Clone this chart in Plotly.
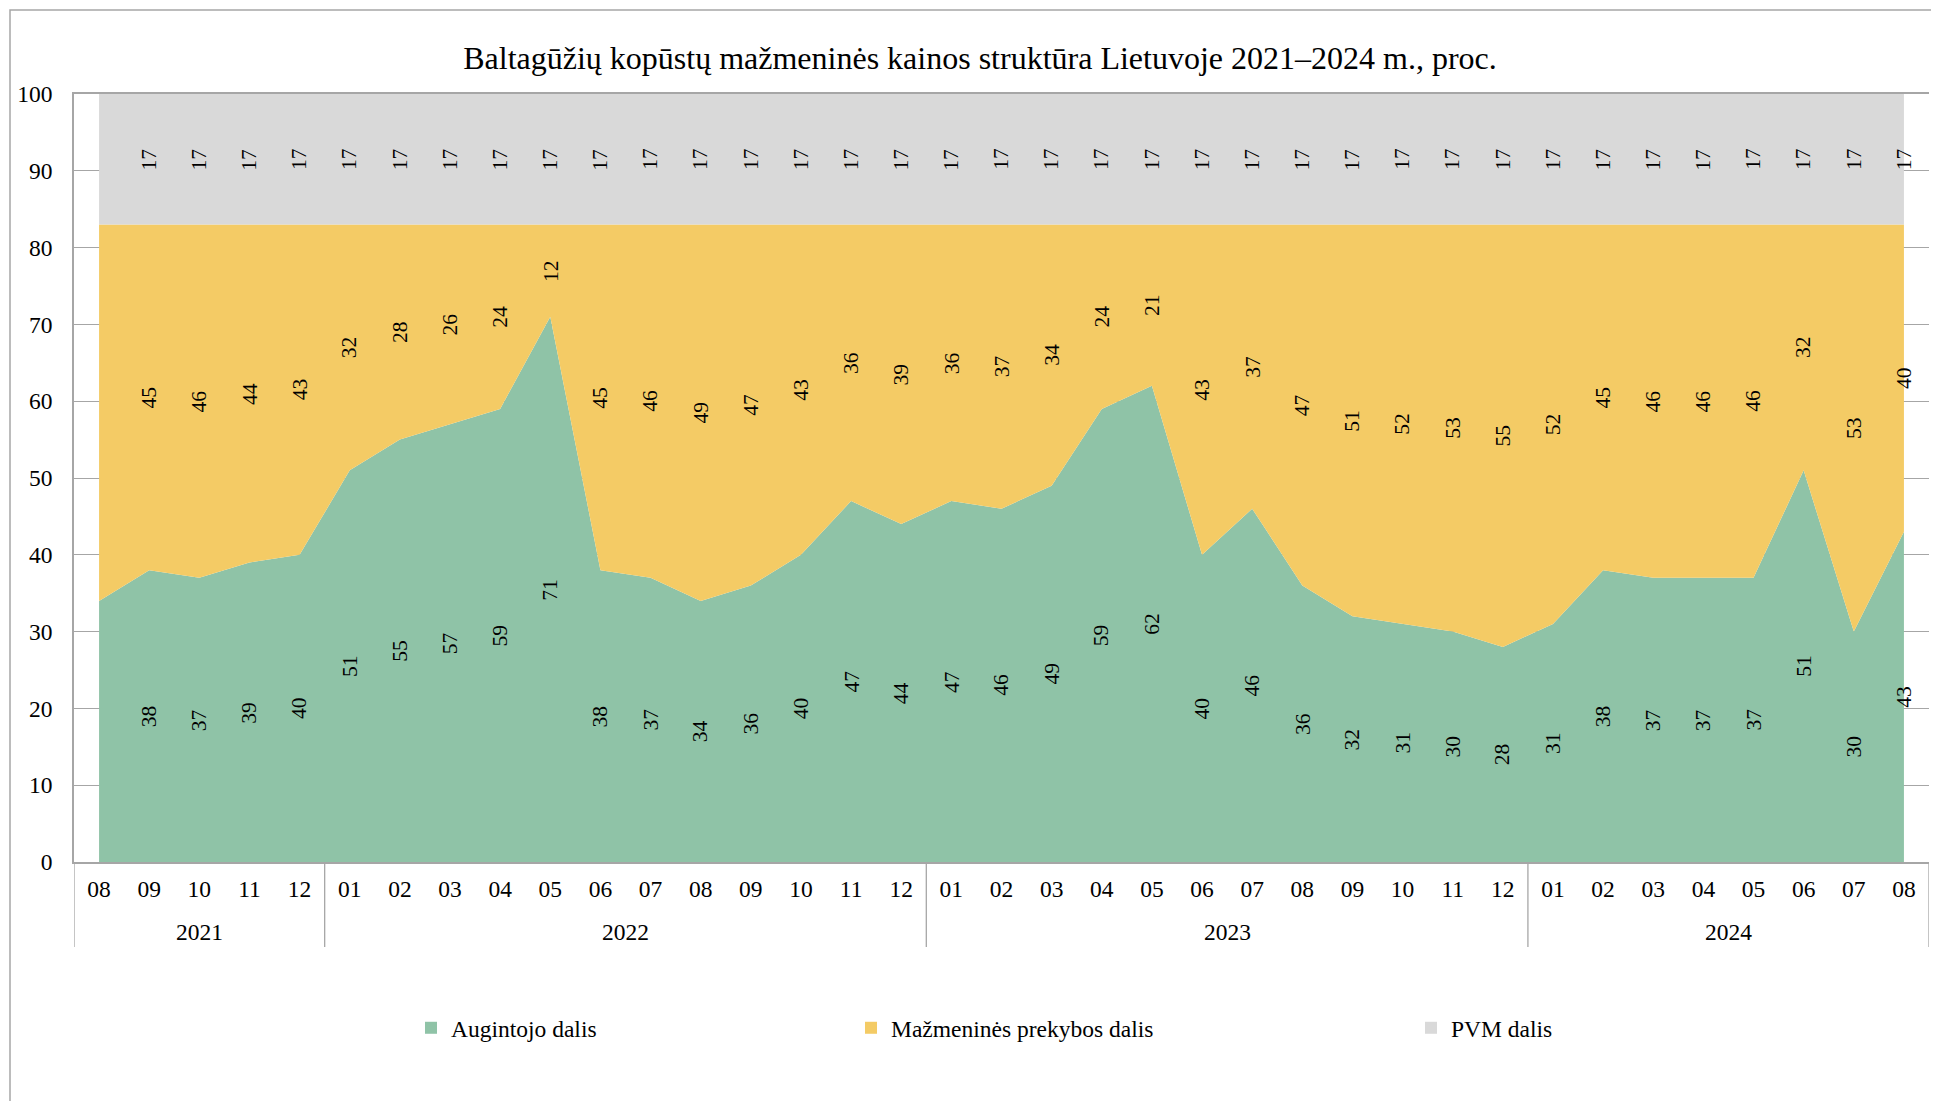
import plotly.graph_objects as go

# data
menesiai = ["08", "09", "10", "11", "12",
            "01", "02", "03", "04", "05", "06", "07", "08", "09", "10", "11", "12",
            "01", "02", "03", "04", "05", "06", "07", "08", "09", "10", "11", "12",
            "01", "02", "03", "04", "05", "06", "07", "08"]
metai = ["2021", "2022", "2023", "2024"]
metu_ilgis = [5, 12, 12, 8]

augintojo = [34, 38, 37, 39, 40,
             51, 55, 57, 59, 71, 38, 37, 34, 36, 40, 47, 44,
             47, 46, 49, 59, 62, 40, 46, 36, 32, 31, 30, 28,
             31, 38, 37, 37, 37, 51, 30, 43]
mazmenines = [49, 45, 46, 44, 43,
              32, 28, 26, 24, 12, 45, 46, 49, 47, 43, 36, 39,
              36, 37, 34, 24, 21, 43, 37, 47, 51, 52, 53, 55,
              52, 45, 46, 46, 46, 32, 53, 40]
pvm = [17] * 37

serijos = [("Augintojo dalis", augintojo, "#8fc3a7"),
           ("Mažmeninės prekybos dalis", mazmenines, "#f4cb65"),
           ("PVM dalis", pvm, "#d9d9d9")]

FONT = "Liberation Serif"
OFF = 8  # page body margin of the html
W, H = 1939, 1101
L, T = 74 - OFF, 94 - OFF
R = W - (1929 - OFF)
B = H - (862 - OFF)
pw, ph = W - L - R, H - T - B


def px_x(p):
    return (p - OFF - L) / pw


def px_y(p):
    return (H - B - (p - OFF)) / ph


x = list(range(len(menesiai)))
fig = go.Figure()

for name, vals, col in serijos:
    fig.add_trace(go.Scatter(x=x, y=vals, stackgroup="one", mode="lines",
                             line=dict(width=0, color=col), fillcolor=col,
                             name=name, showlegend=False, hoverinfo="skip"))

# legend entries as small squares, each in its own legend box
leg_centres = [431, 871, 1431]
for i, (name, vals, col) in enumerate(serijos):
    lg = "legend" if i == 0 else f"legend{i + 1}"
    fig.add_trace(go.Scatter(x=[None], y=[None], mode="markers", name=name,
                             marker=dict(symbol="square", size=12, color=col),
                             legend=lg))
    fig.update_layout({lg: dict(x=px_x(leg_centres[i] - 20), xanchor="left",
                                y=px_y(1028), yanchor="middle",
                                font=dict(family=FONT, size=23.5, color="black"),
                                bgcolor="rgba(0,0,0,0)")})

# data labels, centred in each band, rotated
for i in x:
    if i == 0:
        continue
    base = 0
    for name, vals, col in serijos:
        v = vals[i]
        fig.add_annotation(x=i, y=base + v / 2, text=str(v), showarrow=False,
                           textangle=-90, font=dict(family=FONT, size=21.5, color="black"))
        base += v

# year labels and separators under the month axis
start = 0
seps = [-0.5]
for m, n in zip(metai, metu_ilgis):
    fig.add_annotation(x=start + (n - 1) / 2, y=px_y(932), xref="x", yref="paper",
                       text=m, showarrow=False, yanchor="middle",
                       font=dict(family=FONT, size=23.5, color="black"))
    start += n
    seps.append(start - 0.5)
for s in seps:
    fig.add_shape(type="line", xref="x", yref="paper", x0=s, x1=s,
                  y0=0, y1=px_y(947), line=dict(color="#a6a6a6", width=1.3))

# outer chart frame
fig.add_shape(type="rect", xref="paper", yref="paper",
              x0=px_x(10), x1=px_x(W + 20), y0=px_y(H + 20), y1=px_y(10),
              line=dict(color="#a6a6a6", width=1.5), layer="below")

fig.update_layout(
    width=W, height=H,
    margin=dict(l=L, r=R, t=T, b=B),
    paper_bgcolor="white", plot_bgcolor="white",
    font=dict(family=FONT, color="black"),
    title=dict(text="Baltagūžių kopūstų mažmeninės kainos struktūra Lietuvoje 2021–2024 m., proc.",
               x=px_x(980), xref="paper", xanchor="center", y=1 - (58 - OFF) / H, yanchor="middle",
               font=dict(family=FONT, size=32, color="black")),
    showlegend=True,
)
fig.update_xaxes(range=[-0.5, 36.5], tickmode="array", tickvals=x, ticktext=menesiai,
                 showgrid=False, zeroline=False, showline=True, mirror=True,
                 linecolor="#a6a6a6", linewidth=1.5, ticks="", ticklabelstandoff=5,
                 automargin=False,
                 tickfont=dict(family=FONT, size=23.5, color="black"))
fig.update_yaxes(range=[0, 100], dtick=10, showgrid=True, gridcolor="#a6a6a6", gridwidth=1,
                 zeroline=False, showline=True, linecolor="#a6a6a6", linewidth=1.5,
                 ticks="", ticklabelstandoff=15, automargin=False,
                 tickfont=dict(family=FONT, size=23.5, color="black"))

fig.write_html("out.html")
